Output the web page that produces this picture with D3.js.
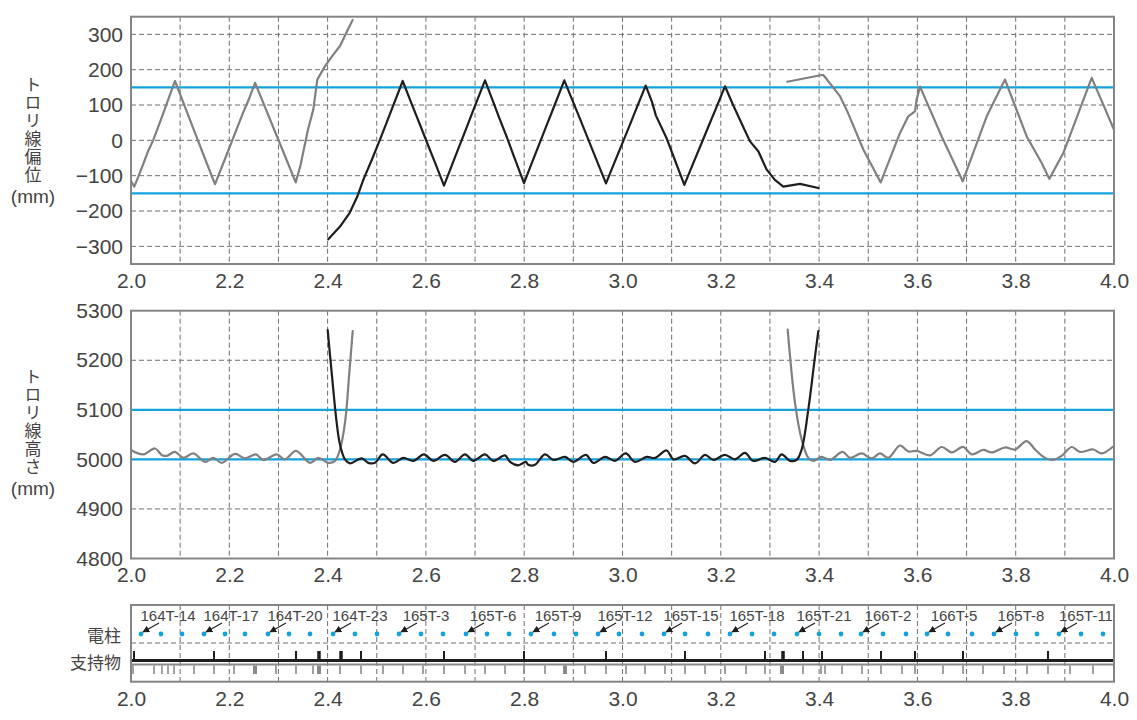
<!DOCTYPE html>
<html>
<head>
<meta charset="utf-8">
<script src="https://cdn.jsdelivr.net/npm/d3@7"></script>
<style>
body { margin: 0; background: #fff; }
svg { display: block; font-family: "Liberation Sans", "Noto Sans CJK JP", sans-serif; }
.jp { font-family: "Noto Sans CJK JP", sans-serif; }
</style>
</head>
<body>
<svg id="chart"></svg>
<script>
//Ticks
const kmTicks = [2.0, 2.2, 2.4, 2.6, 2.8, 3.0, 3.2, 3.4, 3.6, 3.8, 4.0];
const kmGrid = [2.1, 2.2, 2.3, 2.4, 2.5, 2.6, 2.7, 2.8, 2.9, 3.0, 3.1, 3.2, 3.3, 3.4, 3.5, 3.6, 3.7, 3.8, 3.9];
const dispTicks = [-300, -200, -100, 0, 100, 200, 300];
const heightTicks = [4800, 4900, 5000, 5100, 5200, 5300];
const heightGrid = [4900, 5000, 5100, 5200];
const dispLimits = [150, -150];
const heightLimits = [5100, 5000];

//Trolley wire displacement (km, mm)
const dispGrayA = [[2.000,-115],[2.0067,-131],[2.02,-85],[2.035,-30],[2.045,0],[2.06,55],[2.0895,168],[2.10,130],[2.13,22],[2.15,-50],[2.1709,-124],[2.19,-57],[2.21,14],[2.2285,80],[2.24,117],[2.2523,163],[2.26,137],[2.29,35],[2.31,-33],[2.3351,-119],[2.345,-70],[2.36,30],[2.3709,87],[2.379,172],[2.3947,210],[2.41,240],[2.4252,267],[2.44,310],[2.4511,341]];
const dispBlack = [[2.4014,-280],[2.4252,-244],[2.445,-205],[2.4604,-159],[2.4726,-112],[2.49,-55],[2.5066,2],[2.525,68],[2.5528,168],[2.57,107],[2.59,37],[2.605,-16],[2.62,-68],[2.6368,-128],[2.65,-81],[2.665,-27],[2.68,26],[2.70,98],[2.7203,170],[2.735,116],[2.75,61],[2.765,8],[2.78,-49],[2.7996,-121],[2.815,-66],[2.83,-13],[2.845,40],[2.86,93],[2.8816,170],[2.895,124],[2.91,73],[2.925,21],[2.945,-48],[2.9664,-122],[2.985,-58],[3.0,-7],[3.015,44],[3.03,96],[3.0472,155],[3.06,109],[3.068,70],[3.09,5],[3.105,-50],[3.1258,-126],[3.14,-78],[3.16,-11],[3.175,40],[3.19,90],[3.2085,153],[3.225,100],[3.245,40],[3.2594,-3],[3.2763,-31],[3.2934,-83],[3.31,-112],[3.3272,-131],[3.3611,-123],[3.3984,-135]];
const dispGrayB = [[3.3353,166],[3.4053,185],[3.4086,185],[3.4425,125],[3.4574,82],[3.49,-26],[3.5253,-119],[3.5646,21],[3.5815,68],[3.5951,82],[3.5985,116],[3.6053,152],[3.6494,11],[3.6922,-116],[3.741,68],[3.7782,172],[3.8224,11],[3.8529,-64],[3.8684,-109],[3.8969,-36],[3.9546,177],[3.9782,101],[4.0,30]];

//Trolley wire height (km, mm)
const heightGrayA = [[2.000,5019],[2.025,5010],[2.0488,5022],[2.0625,5009],[2.0726,5007],[2.0895,5015],[2.1064,5003],[2.1268,5012],[2.1506,4995],[2.1674,5003],[2.1845,4993],[2.2116,5011],[2.2319,5002],[2.2543,5010],[2.2692,4999],[2.2964,5010],[2.3133,5000],[2.3357,5017],[2.3642,4993],[2.3811,5003],[2.4014,4993],[2.4151,4997],[2.4252,5020],[2.4354,5074],[2.4442,5175],[2.4511,5259]];
const heightBlack = [[2.4002,5261],[2.4083,5175],[2.4185,5074],[2.4252,5030],[2.4354,5000],[2.4456,4992],[2.4694,5002],[2.4828,4993],[2.4964,4993],[2.5121,5010],[2.5337,4993],[2.554,5003],[2.5744,4997],[2.5961,5010],[2.6151,4997],[2.6389,5009],[2.6592,4995],[2.6796,5010],[2.6965,4997],[2.7203,5010],[2.7371,4997],[2.761,5008],[2.7711,4995],[2.788,4988],[2.8031,4995],[2.8083,4989],[2.822,4989],[2.8423,5010],[2.8592,4999],[2.883,5005],[2.8999,4995],[2.9257,5009],[2.9406,4993],[2.9644,5005],[2.9847,4997],[3.0065,5012],[3.0254,4995],[3.0492,5005],[3.0661,5003],[3.0899,5018],[3.1034,5000],[3.1272,5007],[3.1475,4992],[3.1679,5009],[3.1847,4999],[3.2085,5009],[3.2289,5000],[3.2492,5013],[3.2661,4997],[3.2899,5003],[3.3103,4995],[3.3239,5010],[3.3408,4997],[3.3544,4999],[3.3645,5020],[3.3781,5101],[3.3917,5208],[3.3984,5259]];
const heightGrayB = [[3.3361,5262],[3.351,5114],[3.3645,5040],[3.3781,5003],[3.3882,4997],[3.4053,5005],[3.4222,4999],[3.448,5015],[3.4629,5003],[3.4867,5012],[3.507,5002],[3.5239,5012],[3.5408,5003],[3.5646,5028],[3.5815,5016],[3.5985,5017],[3.6256,5008],[3.6494,5025],[3.6697,5014],[3.6934,5025],[3.7105,5010],[3.7341,5019],[3.7512,5014],[3.7782,5024],[3.7986,5020],[3.8224,5037],[3.8393,5020],[3.8596,5003],[3.8765,4999],[3.8935,5007],[3.9139,5025],[3.9308,5015],[3.9579,5020],[3.9749,5012],[3.9983,5026]];

//Poles (電柱) and supports (支持物)
const poleKm = [2.0203,2.061,2.1038,2.1485,2.1913,2.2319,2.2787,2.3215,2.3642,2.411,2.4557,2.5005,2.5453,2.59,2.6348,2.6816,2.7243,2.7691,2.8138,2.8606,2.9054,2.9502,2.9929,3.0397,3.0844,3.1272,3.174,3.2187,3.2635,3.3083,3.355,3.3998,3.4446,3.4852,3.53,3.5768,3.6195,3.6623,3.7111,3.7558,3.8006,3.8433,3.8881,3.9329,3.9776];
const poleNames = ["164T-14","164T-17","164T-20","164T-23","165T-3","165T-6","165T-9","165T-12","165T-15","165T-18","165T-21","166T-2","166T-5","165T-8","165T-11"];
const supportBlack = [2.0061,2.1689,2.3357,2.468,2.6368,2.7996,2.9664,3.1272,3.2899,3.3672,3.4059,3.5259,3.5951,3.6928,3.8657];
const supportBlackWide = [2.3825,2.4273,3.3266];
const supportGray = [2.0041,2.0468,2.0631,2.0753,2.0875,2.1282,2.1689,2.2096,2.295,2.3357,2.3703,2.4252,2.468,2.5127,2.5534,2.5941,2.6368,2.6796,2.7203,2.761,2.7996,2.8423,2.9237,2.9664,3.0071,3.0458,3.0865,3.1272,3.1679,3.2085,3.2513,3.2899,3.3672,3.4039,3.412,3.4466,3.4873,3.5259,3.5687,3.5951,3.6521,3.6928,3.7335,3.7762,3.823,3.8657,3.9105,3.9573];
const supportGrayWide = [2.2523,2.3825,2.883,3.3245];

//Layout
const width = 1137, height = 720;
const left = 131, right = 1114;
const blue = "#12a2de";
const gridColor = "#6f6f6f";
const textColor = "#444";

const svg = d3.select("#chart")
    .attr("width", width)
    .attr("height", height);

const x = d3.scaleLinear().domain([2.0, 4.0]).range([left, right]);
const yDisp = d3.scaleLinear().domain([-350, 350]).range([264, 16.7]);
const yHeight = d3.scaleLinear().domain([4800, 5300]).range([558.5, 310.7]);

const minusFormat = d => d < 0 ? "\u2212" + Math.abs(d) : String(d);

function drawGrid(g, top, bottom, yScale, gridY) {
    g.append("g")
        .selectAll("line")
        .data(kmGrid)
        .join("line")
        .attr("x1", d => x(d)).attr("x2", d => x(d))
        .attr("y1", top).attr("y2", bottom)
        .attr("stroke", gridColor)
        .attr("stroke-width", 1)
        .attr("stroke-dasharray", "5,3");
    g.append("g")
        .selectAll("line")
        .data(gridY)
        .join("line")
        .attr("x1", left).attr("x2", right)
        .attr("y1", d => yScale(d)).attr("y2", d => yScale(d))
        .attr("stroke", gridColor)
        .attr("stroke-width", 1)
        .attr("stroke-dasharray", "5,3");
}

function drawXAxis(bottom) {
    const xAxis = d3.axisBottom(x)
        .tickValues(kmTicks)
        .tickSize(0)
        .tickPadding(9)
        .tickFormat(d3.format(".1f"));
    const g = svg.append("g")
        .attr("transform", `translate(0, ${bottom})`)
        .call(xAxis);
    g.select(".domain").remove();
    g.selectAll("text")
        .style("font-family", "'Liberation Sans', sans-serif")
        .style("font-size", "21px")
        .style("fill", textColor);
}

function drawYAxis(yScale, ticks) {
    const yAxis = d3.axisLeft(yScale)
        .tickValues(ticks)
        .tickSize(0)
        .tickPadding(8)
        .tickFormat(minusFormat);
    const g = svg.append("g")
        .attr("transform", `translate(${left}, 0)`)
        .call(yAxis);
    g.select(".domain").remove();
    g.selectAll("text")
        .style("font-family", "'Liberation Sans', sans-serif")
        .style("font-size", "21px")
        .style("fill", textColor);
}

//Vertical axis title, one text element written top to bottom
function drawTitle(chars, yTop) {
    svg.append("text")
        .attr("class", "jp")
        .attr("x", 33)
        .attr("y", yTop)
        .style("writing-mode", "vertical-rl")
        .style("font-size", "17px")
        .style("letter-spacing", "1px")
        .style("fill", textColor)
        .text(chars);
    svg.append("text")
        .attr("x", 33)
        .attr("y", yTop + chars.length * 18 + 19)
        .attr("text-anchor", "middle")
        .style("font-size", "19px")
        .style("fill", textColor)
        .text("(mm)");
}

function drawBorder(top, bottom) {
    svg.append("rect")
        .attr("x", left).attr("y", top)
        .attr("width", right - left).attr("height", bottom - top)
        .attr("fill", "none")
        .attr("stroke", "#858585")
        .attr("stroke-width", 2);
}

function drawLimits(yScale, limits) {
    svg.append("g")
        .selectAll("line")
        .data(limits)
        .join("line")
        .attr("x1", left).attr("x2", right)
        .attr("y1", d => yScale(d)).attr("y2", d => yScale(d))
        .attr("stroke", blue)
        .attr("stroke-width", 2.2);
}

function drawSeries(data, yScale, color, curve) {
    const line = d3.line()
        .x(d => x(d[0]))
        .y(d => yScale(d[1]))
        .curve(curve);
    svg.append("path")
        .datum(data)
        .attr("d", line)
        .attr("fill", "none")
        .attr("stroke", color)
        .attr("stroke-width", 2.2)
        .attr("stroke-linejoin", "round")
        .attr("stroke-linecap", "round");
}

//Panel 1: displacement
const top1 = 16.7, bottom1 = 264;
drawGrid(svg.append("g"), top1, bottom1, yDisp, dispTicks);
drawLimits(yDisp, dispLimits);
drawSeries(dispGrayA, yDisp, "#808080", d3.curveLinear);
drawSeries(dispGrayB, yDisp, "#808080", d3.curveLinear);
drawSeries(dispBlack, yDisp, "#1e1e1e", d3.curveLinear);
drawBorder(top1, bottom1);
drawYAxis(yDisp, dispTicks);
drawXAxis(bottom1);
drawTitle("トロリ線偏位", 76);

//Panel 2: height
const top2 = 310.7, bottom2 = 558.5;
drawGrid(svg.append("g"), top2, bottom2, yHeight, heightGrid);
drawLimits(yHeight, heightLimits);
drawSeries(heightGrayA, yHeight, "#808080", d3.curveCatmullRom);
drawSeries(heightGrayB, yHeight, "#808080", d3.curveCatmullRom);
drawSeries(heightBlack, yHeight, "#1e1e1e", d3.curveCatmullRom);
drawBorder(top2, bottom2);
drawYAxis(yHeight, heightTicks);
drawXAxis(bottom2);
drawTitle("トロリ線高さ", 368);

//Panel 3: poles and supports
const top3 = 605, bottom3 = 681.7;
const poleY = 634, dividerY = 643;
const g3 = svg.append("g");
drawGrid(g3, top3, bottom3, yHeight, []);
g3.append("line")
    .attr("x1", left).attr("x2", right)
    .attr("y1", dividerY).attr("y2", dividerY)
    .attr("stroke", gridColor)
    .attr("stroke-dasharray", "5,3");

//Supports
g3.append("g")
    .selectAll("line")
    .data(supportGray)
    .join("line")
    .attr("x1", d => x(d)).attr("x2", d => x(d))
    .attr("y1", 665.5).attr("y2", 674)
    .attr("stroke", "#8a8a8a")
    .attr("stroke-width", 1.6);
g3.append("g")
    .selectAll("line")
    .data(supportGrayWide)
    .join("line")
    .attr("x1", d => x(d)).attr("x2", d => x(d))
    .attr("y1", 665.5).attr("y2", 674)
    .attr("stroke", "#8a8a8a")
    .attr("stroke-width", 4);
g3.append("g")
    .selectAll("line")
    .data(supportBlack)
    .join("line")
    .attr("x1", d => x(d)).attr("x2", d => x(d))
    .attr("y1", 651).attr("y2", 660)
    .attr("stroke", "#1e1e1e")
    .attr("stroke-width", 2);
g3.append("g")
    .selectAll("line")
    .data(supportBlackWide)
    .join("line")
    .attr("x1", d => x(d)).attr("x2", d => x(d))
    .attr("y1", 651).attr("y2", 660)
    .attr("stroke", "#1e1e1e")
    .attr("stroke-width", 3.5);
g3.append("line")
    .attr("x1", left).attr("x2", right)
    .attr("y1", 660.5).attr("y2", 660.5)
    .attr("stroke", "#1e1e1e")
    .attr("stroke-width", 3);
g3.append("line")
    .attr("x1", left).attr("x2", right)
    .attr("y1", 664.5).attr("y2", 664.5)
    .attr("stroke", "#8a8a8a")
    .attr("stroke-width", 2);

//Poles
g3.append("g")
    .selectAll("circle")
    .data(poleKm)
    .join("circle")
    .attr("cx", d => x(d))
    .attr("cy", poleY)
    .attr("r", 2.4)
    .attr("fill", blue);

svg.append("defs")
    .append("marker")
    .attr("id", "arrow")
    .attr("viewBox", "0 0 10 10")
    .attr("refX", 9).attr("refY", 5)
    .attr("markerWidth", 7).attr("markerHeight", 7)
    .attr("markerUnits", "userSpaceOnUse")
    .attr("orient", "auto")
    .append("path")
    .attr("d", "M0,0 L10,5 L0,10 Z")
    .attr("fill", "#1e1e1e");

const labelled = poleNames.map((name, i) => ({name: name, km: poleKm[i * 3]}));
const labelG = g3.append("g")
    .selectAll("g")
    .data(labelled)
    .join("g");
labelG.append("line")
    .attr("x1", d => x(d.km) + 18).attr("y1", poleY - 11)
    .attr("x2", d => x(d.km) + 2).attr("y2", poleY - 2)
    .attr("stroke", "#1e1e1e")
    .attr("stroke-width", 1.2)
    .attr("marker-end", "url(#arrow)");
labelG.append("text")
    .attr("x", d => x(d.km) + 27)
    .attr("y", 621)
    .attr("text-anchor", "middle")
    .style("font-family", "'Liberation Sans', sans-serif")
    .style("font-size", "15px")
    .style("fill", textColor)
    .text(d => d.name);

drawBorder(top3, bottom3);
drawXAxis(bottom3);

svg.append("text")
    .attr("class", "jp")
    .attr("x", 121).attr("y", poleY)
    .attr("text-anchor", "end")
    .attr("dominant-baseline", "central")
    .style("font-size", "17px")
    .style("fill", textColor)
    .text("電柱");
svg.append("text")
    .attr("class", "jp")
    .attr("x", 121).attr("y", 661)
    .attr("text-anchor", "end")
    .attr("dominant-baseline", "central")
    .style("font-size", "17px")
    .style("fill", textColor)
    .text("支持物");
</script>
</body>
</html>
